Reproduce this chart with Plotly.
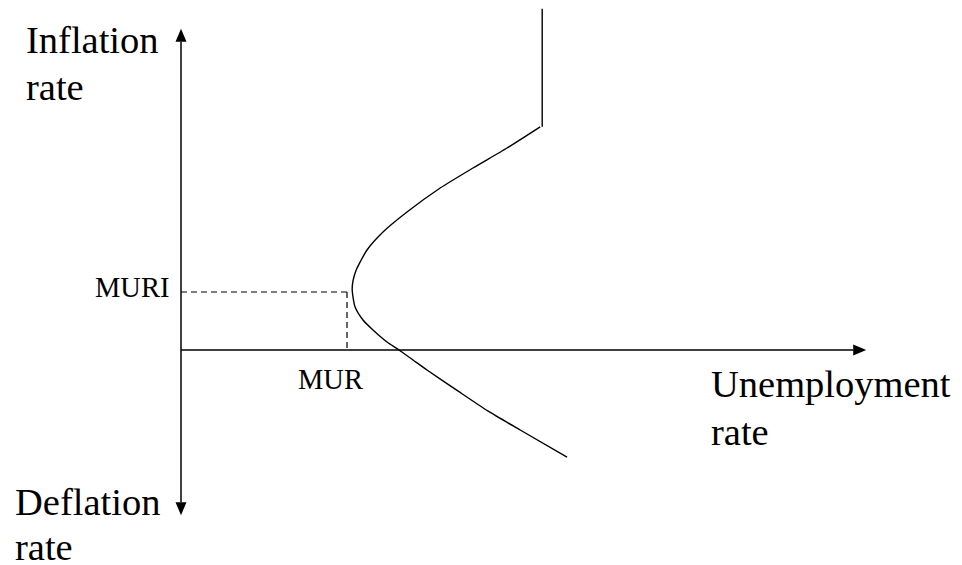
import plotly.graph_objects as go

# ---- data (arbitrary units: unemployment rate u, inflation rate i) ----
curve_u = [8.98, 8.15, 7.30, 6.48, 5.65, 5.05, 4.65, 4.38, 4.30, 4.28, 4.35, 4.55, 4.80, 5.15, 5.45, 5.80, 6.15, 6.93, 7.68, 8.48, 9.65]
curve_i = [5.58, 5.05, 4.55, 4.05, 3.45, 2.95, 2.50, 2.00, 1.73, 1.50, 1.08, 0.75, 0.50, 0.20, 0.00, -0.25, -0.50, -1.03, -1.53, -2.00, -2.68]
vertical_u = [9.03, 9.03]
vertical_i = [8.53, 5.58]
MUR = 4.15
MURI = 1.45
axis_u_end = 17.13
axis_i_top = 8.03
axis_i_bottom = -4.13

# ---- geometry helpers (1 unit = 40 px) ----
W, H = 962, 565
SCALE = 40.0
X0, Y0 = 181, 350  # pixel position of origin
xr = [-X0 / SCALE, (W - X0) / SCALE]
yr = [-(H - Y0) / SCALE, Y0 / SCALE]

def ux(px):
    return (px - X0) / SCALE

def uy(py):
    return (Y0 - py) / SCALE

FONT = "Liberation Serif, Times New Roman, serif"
fig = go.Figure()

fig.add_trace(go.Scatter(x=vertical_u, y=vertical_i, mode="lines",
                         line=dict(color="black", width=1.4), hoverinfo="skip"))
fig.add_trace(go.Scatter(x=curve_u, y=curve_i, mode="lines",
                         line=dict(color="black", width=1.4, shape="spline", smoothing=0.6),
                         hoverinfo="skip"))

shapes = []
AL = 13 / SCALE   # arrow length
AW = 5.5 / SCALE  # arrow half width
lw = 1.5
# axes
shapes.append(dict(type="line", xref="x", yref="y", x0=0, x1=0,
                   y0=axis_i_bottom + AL, y1=axis_i_top - AL, line=dict(color="black", width=lw)))
shapes.append(dict(type="line", xref="x", yref="y", x0=0, x1=axis_u_end - AL,
                   y0=0, y1=0, line=dict(color="black", width=lw)))
# arrowheads
def tri(pts):
    return "M " + " L ".join(f"{a},{b}" for a, b in pts) + " Z"

shapes.append(dict(type="path", xref="x", yref="y", fillcolor="black", line=dict(width=0),
                   path=tri([(0, axis_i_top), (-AW, axis_i_top - AL), (AW, axis_i_top - AL)])))
shapes.append(dict(type="path", xref="x", yref="y", fillcolor="black", line=dict(width=0),
                   path=tri([(0, axis_i_bottom), (-AW, axis_i_bottom + AL), (AW, axis_i_bottom + AL)])))
shapes.append(dict(type="path", xref="x", yref="y", fillcolor="black", line=dict(width=0),
                   path=tri([(axis_u_end, 0), (axis_u_end - AL, AW), (axis_u_end - AL, -AW)])))
# dashed guides
dash = "6px,4px"
shapes.append(dict(type="line", xref="x", yref="y", x0=0, x1=MUR, y0=MURI, y1=MURI,
                   line=dict(color="black", width=1.2, dash=dash)))
shapes.append(dict(type="line", xref="x", yref="y", x0=MUR, x1=MUR, y0=MURI, y1=0,
                   line=dict(color="black", width=1.2, dash=dash)))

BIG = 38.5
SMALL = 28.5

def label(text, px_left, py_base, size):
    # convert baseline to approximate middle of text box
    py_mid = py_base - 0.34 * size
    return dict(text=text, x=ux(px_left), y=uy(py_mid), xref="x", yref="y",
                xanchor="left", yanchor="middle", showarrow=False,
                font=dict(family=FONT, size=size, color="black"))

annotations = [
    label("Inflation", 24, 53, BIG),
    label("rate", 24, 100, BIG),
    label("MURI", 93, 297, SMALL),
    label("MUR", 296, 389, SMALL),
    label("Unemployment", 709, 397, BIG),
    label("rate", 709, 445, BIG),
    label("Deflation", 13, 515, BIG),
    label("rate", 13, 560, BIG),
]

fig.update_layout(
    width=W, height=H,
    margin=dict(l=0, r=0, t=0, b=0),
    paper_bgcolor="white", plot_bgcolor="white",
    showlegend=False,
    xaxis=dict(range=xr, visible=False, fixedrange=True),
    yaxis=dict(range=yr, visible=False, fixedrange=True),
    shapes=shapes,
    annotations=annotations,
)

fig.write_html("out.html", config={"displayModeBar": False},
               post_script="document.body.style.margin='0';document.body.style.overflow='hidden';")
